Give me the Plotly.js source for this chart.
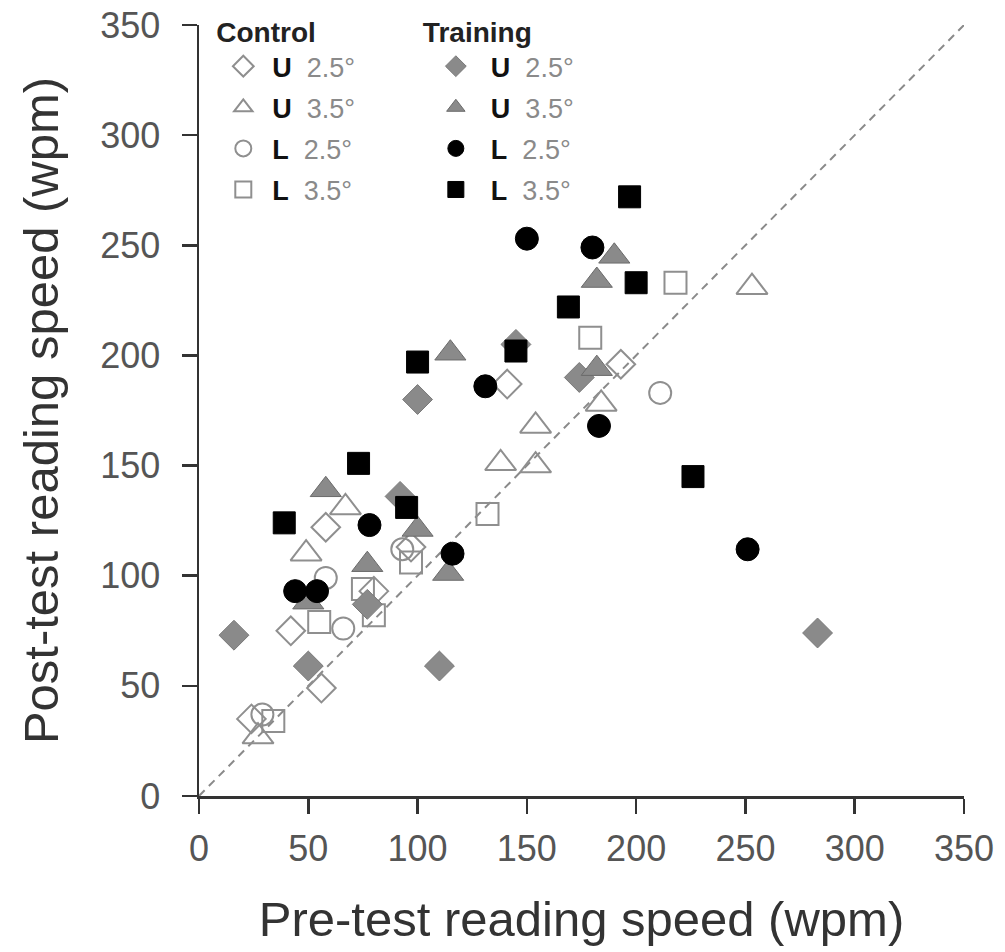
<!DOCTYPE html>
<html>
<head>
<meta charset="utf-8">
<script src="https://cdn.plot.ly/plotly-3.0.1.min.js"></script>
<style>html,body{margin:0;padding:0;background:#fff;}</style>
</head>
<body>
<div id="chart" style="width:1005px;height:952px;"></div>
<script>
// ---- data (pre-test wpm, post-test wpm) ----
var controlU25x = [24, 42, 56, 58, 80, 97, 141, 193];
var controlU25y = [35, 75, 49, 122, 93, 113, 187, 196];
var controlU35x = [27, 49, 67, 138, 154, 154, 184, 253];
var controlU35y = [27, 110, 131, 151, 150, 168, 178, 231];
var controlL25x = [29, 58, 66, 93, 211];
var controlL25y = [37, 99, 76, 112, 183];
var controlL35x = [34, 55, 75, 80, 97, 132, 179, 218];
var controlL35y = [34, 79, 94, 82, 106, 128, 208, 233];

var trainU25x = [16, 50, 77, 110, 92, 100, 174, 145, 283];
var trainU25y = [73, 59, 87, 59, 136, 180, 190, 205, 74];
var trainU35x = [50, 58, 77, 100, 114, 115, 182, 190, 182];
var trainU35y = [88, 139, 105, 121, 101, 201, 234, 245, 194];
var trainL25x = [44, 54, 78, 116, 131, 150, 180, 183, 251];
var trainL25y = [93, 93, 123, 110, 186, 253, 249, 168, 112];
var trainL35x = [39, 73, 95, 100, 145, 169, 197, 200, 226];
var trainL35y = [124, 151, 131, 197, 202, 222, 272, 233, 145];

var identityLine = [0, 350];
var tickValues = [0, 50, 100, 150, 200, 250, 300, 350];
var seriesLabels = ['U', 'U', 'L', 'L'];
var seriesAngles = ['2.5°', '3.5°', '2.5°', '3.5°'];
var xTitle = 'Pre-test reading speed (wpm)';
var yTitle = 'Post-test reading speed (wpm)';

var FONT = 'Liberation Sans, Arial, sans-serif';
var openGray = '#8f8f8f';
var fillGray = '#8a8a8a';

function lbl(i) {
  return '<b>' + seriesLabels[i] + '</b>  <span style="color:#8a8a8a">' + seriesAngles[i] + '</span>';
}

function tr(x, y, name, legend, group, symbol, size, color, lineColor, lineW) {
  return {
    type: 'scatter', mode: 'markers', x: x, y: y, name: name,
    legend: legend, legendgroup: group,
    marker: {symbol: symbol, size: size, color: color,
             line: {color: lineColor, width: lineW}},
    hoverinfo: 'x+y'
  };
}

var traces = [
  {type: 'scatter', mode: 'lines', x: identityLine, y: identityLine,
   line: {color: '#8a8a8a', width: 2, dash: '8px,6px'}, showlegend: false, hoverinfo: 'skip'},
  tr(controlU25x, controlU25y, lbl(0), 'legend', 'c1', 'diamond-open', 22, openGray, openGray, 2),
  tr(controlU35x, controlU35y, lbl(1), 'legend', 'c2', 'triangle-up-open', 27, openGray, openGray, 2),
  tr(controlL25x, controlL25y, lbl(2), 'legend', 'c3', 'circle-open', 22, openGray, openGray, 2),
  tr(controlL35x, controlL35y, lbl(3), 'legend', 'c4', 'square-open', 22, openGray, openGray, 2),
  tr(trainU25x, trainU25y, lbl(0), 'legend2', 't1', 'diamond', 23, fillGray, '#7a7a7a', 1),
  tr(trainU35x, trainU35y, lbl(1), 'legend2', 't2', 'triangle-up', 27, fillGray, '#6a6a6a', 1),
  tr(trainL25x, trainL25y, lbl(2), 'legend2', 't3', 'circle', 23, '#000000', '#000000', 1),
  tr(trainL35x, trainL35y, lbl(3), 'legend2', 't4', 'square', 22, '#000000', '#000000', 1)
];

var axisCommon = {
  range: [0, 350], tickvals: tickValues, ticks: 'outside', ticklen: 15, tickwidth: 2.5,
  tickcolor: '#333', showline: true, linecolor: '#333', linewidth: 2.5,
  showgrid: false, zeroline: false, fixedrange: true,
  tickfont: {family: FONT, size: 36, color: '#555'}
};

var layout = {
  width: 1005, height: 952,
  margin: {l: 199, r: 41, t: 25, b: 156, autoexpand: false},
  paper_bgcolor: '#fff', plot_bgcolor: '#fff',
  font: {family: FONT, color: '#111'},
  xaxis: Object.assign({}, axisCommon, {
    ticklabelstandoff: 4,
    title: {text: xTitle, font: {family: FONT, size: 49, color: '#333'}, standoff: 34}
  }),
  yaxis: Object.assign({}, axisCommon, {
    ticklabelstandoff: 14,
    title: {text: yTitle, font: {family: FONT, size: 49, color: '#333'}, standoff: 26}
  }),
  legend: {
    x: 0.02, y: 1.025, xanchor: 'left', yanchor: 'top', bgcolor: 'rgba(0,0,0,0)',
    title: {text: '<b>Control</b>', font: {family: FONT, size: 28, color: '#222'}},
    font: {family: FONT, size: 27, color: '#111'}, tracegroupgap: 3, itemwidth: 48
  },
  legend2: {
    x: 0.29, y: 1.025, xanchor: 'left', yanchor: 'top', bgcolor: 'rgba(0,0,0,0)',
    title: {text: '<b>Training</b>', font: {family: FONT, size: 28, color: '#222'}},
    font: {family: FONT, size: 27, color: '#111'}, tracegroupgap: 3, itemwidth: 60
  },
  showlegend: true
};

Plotly.newPlot('chart', traces, layout, {displayModeBar: false, staticPlot: true});
</script>
</body>
</html>
